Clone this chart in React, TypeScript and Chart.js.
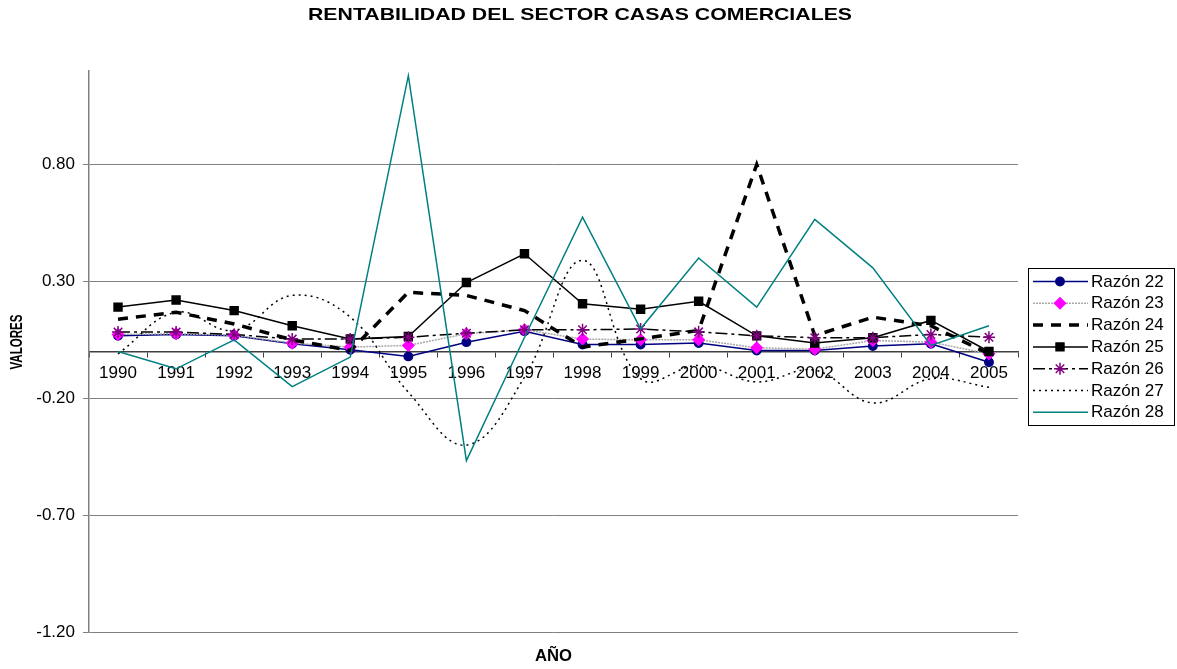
import React, { useEffect, useRef } from 'react';
import { Chart, registerables } from 'chart.js';
import { drawPoint } from 'chart.js/helpers';

Chart.register(...registerables);

const years = ['1990', '1991', '1992', '1993', '1994', '1995', '1996', '1997', '1998', '1999', '2000', '2001', '2002', '2003', '2004', '2005'];
const yTickValues = [-1.2, -0.7, -0.2, 0.3, 0.8];
const seriesNames = ['Razón 22', 'Razón 23', 'Razón 24', 'Razón 25', 'Razón 26', 'Razón 27', 'Razón 28'];

const razon22 = [0.067, 0.073, 0.067, 0.033, 0.007, -0.021, 0.040, 0.087, 0.030, 0.030, 0.036, 0.004, 0.004, 0.023, 0.033, -0.046];
const razon23 = [0.073, 0.076, 0.070, 0.036, 0.019, 0.026, 0.076, 0.093, 0.053, 0.050, 0.050, 0.016, 0.010, 0.047, 0.040, -0.010];
const razon24 = [0.138, 0.168, 0.118, 0.050, 0.004, 0.253, 0.240, 0.175, 0.019, 0.054, 0.090, 0.800, 0.068, 0.147, 0.110, -0.010];
const razon25 = [0.190, 0.220, 0.175, 0.110, 0.054, 0.064, 0.295, 0.418, 0.204, 0.181, 0.215, 0.067, 0.036, 0.059, 0.133, 0.000];
const razon26 = [0.083, 0.083, 0.073, 0.053, 0.053, 0.061, 0.078, 0.093, 0.093, 0.096, 0.084, 0.067, 0.059, 0.059, 0.073, 0.061];
const razon27 = [-0.010, 0.168, 0.090, 0.240, 0.147, -0.174, -0.400, -0.110, 0.390, -0.116, -0.060, -0.130, -0.080, -0.220, -0.117, -0.153];
const razon28 = [0.000, -0.074, 0.050, -0.150, -0.024, 1.180, -0.467, 0.060, 0.575, 0.097, 0.400, 0.190, 0.565, 0.358, 0.026, 0.110];

const seriesValues = [razon22, razon23, razon24, razon25, razon26, razon27, razon28];

const FONT = '"Liberation Sans", Arial, sans-serif';

type Style = {
  line: string;
  width: number;
  dash: number[];
  point: string | false;
  radius: number;
  pointColor: string;
  tension: number;
};

const styles: Style[] = [
  { line: '#000080', width: 1.5, dash: [], point: 'circle', radius: 4.2, pointColor: '#000080', tension: 0 },
  { line: '#a8a8a8', width: 1.5, dash: [2, 1], point: 'rectRot', radius: 5.5, pointColor: '#ff00ff', tension: 0 },
  { line: '#000000', width: 3.5, dash: [10, 8], point: false, radius: 0, pointColor: '#000000', tension: 0 },
  { line: '#000000', width: 1.5, dash: [], point: 'rect', radius: 5.6, pointColor: '#000000', tension: 0 },
  { line: '#000000', width: 1.5, dash: [12, 4, 3, 4], point: 'star', radius: 6, pointColor: '#800080', tension: 0 },
  { line: '#000000', width: 1.5, dash: [2, 4], point: false, radius: 0, pointColor: '#000000', tension: 0.4 },
  { line: '#008080', width: 1.5, dash: [], point: false, radius: 0, pointColor: '#008080', tension: 0 },
];

function drawFitText(ctx: CanvasRenderingContext2D, text: string, cx: number, cy: number, font: string, targetLen: number, rotate: boolean) {
  ctx.save();
  ctx.font = font;
  ctx.fillStyle = '#000';
  ctx.textAlign = 'center';
  ctx.textBaseline = 'middle';
  const w = ctx.measureText(text).width;
  ctx.translate(cx, cy);
  if (rotate) ctx.rotate(-Math.PI / 2);
  ctx.scale(targetLen / w, 1);
  ctx.fillText(text, 0, 0);
  ctx.restore();
}

const decorPlugin = {
  id: 'decor',
  afterDraw(chart: any) {
    const ctx: CanvasRenderingContext2D = chart.ctx;
    drawFitText(ctx, 'RENTABILIDAD DEL SECTOR CASAS COMERCIALES', 580, 15, `bold 17px ${FONT}`, 544, false);
    drawFitText(ctx, 'AÑO', 553.5, 657, `bold 16px ${FONT}`, 37, false);
    drawFitText(ctx, 'VALORES', 18, 342, `bold 16px ${FONT}`, 55, true);

    // legend
    ctx.save();
    ctx.fillStyle = '#fff';
    ctx.fillRect(1028.5, 268.5, 146, 157);
    ctx.strokeStyle = '#000';
    ctx.lineWidth = 1;
    ctx.setLineDash([]);
    ctx.strokeRect(1028.5, 268.5, 146, 157);
    seriesNames.forEach((name, i) => {
      const st = styles[i];
      const y = 281.5 + i * 21.8;
      ctx.save();
      ctx.strokeStyle = st.line;
      ctx.lineWidth = st.width;
      ctx.setLineDash(st.dash);
      ctx.beginPath();
      ctx.moveTo(1033, y);
      ctx.lineTo(1088, y);
      ctx.stroke();
      ctx.restore();
      if (st.point) {
        ctx.save();
        ctx.setLineDash([]);
        ctx.fillStyle = st.pointColor;
        ctx.strokeStyle = st.pointColor;
        ctx.lineWidth = 1.5;
        drawPoint(ctx, { pointStyle: st.point as any, radius: st.radius, rotation: 0, borderWidth: 1.5 } as any, 1060, y);
        ctx.restore();
      }
      ctx.fillStyle = '#000';
      ctx.font = `17px ${FONT}`;
      ctx.textAlign = 'left';
      ctx.textBaseline = 'middle';
      ctx.fillText(name, 1091, y + 0.5);
    });
    ctx.restore();
  },
};

export default function App() {
  const ref = useRef<HTMLCanvasElement>(null);
  useEffect(() => {
    document.body.style.margin = '0';
    const canvas = ref.current;
    if (!canvas) return;
    const datasets = seriesNames.map((name, i) => {
      const st = styles[i];
      return {
        label: name,
        data: seriesValues[i],
        borderColor: st.line,
        borderWidth: st.width,
        borderDash: st.dash,
        backgroundColor: st.pointColor,
        pointStyle: st.point || 'circle',
        pointRadius: st.point ? st.radius : 0,
        pointBackgroundColor: st.pointColor,
        pointBorderColor: st.pointColor,
        pointBorderWidth: 1.5,
        tension: st.tension,
        fill: false,
        order: seriesNames.length - i,
      };
    });
    const chart = new Chart(canvas, {
      type: 'line',
      data: { labels: years, datasets },
      options: {
        responsive: false,
        animation: false,
        layout: { padding: { left: 0, right: 159, top: 71, bottom: 37 } },
        plugins: {
          legend: { display: false },
          title: { display: false },
          tooltip: { enabled: false },
        },
        scales: {
          x: {
            type: 'category',
            offset: true,
            position: { y: 0 } as any,
            grid: { offset: true, drawOnChartArea: false, drawTicks: true, tickLength: 5, color: '#404040' },
            border: { color: '#404040', width: 1.5 },
            ticks: { font: { family: FONT, size: 17 }, color: '#000', padding: 7, maxRotation: 0, autoSkip: false },
          },
          y: {
            min: -1.2,
            max: 1.2,
            afterBuildTicks: (s: any) => {
              s.ticks = yTickValues.map((v) => ({ value: v }));
            },
            afterFit: (s: any) => {
              s.width = 89;
            },
            grid: { color: '#808080', tickLength: 6 },
            border: { color: '#808080', width: 1.5 },
            ticks: {
              font: { family: FONT, size: 17 },
              color: '#000',
              padding: 8,
              callback: (v: any) => Number(v).toFixed(2),
            },
          },
        },
      },
      plugins: [decorPlugin],
    } as any);
    return () => chart.destroy();
  }, []);
  return <canvas ref={ref} width={1177} height={669} style={{ display: 'block' }} />;
}
